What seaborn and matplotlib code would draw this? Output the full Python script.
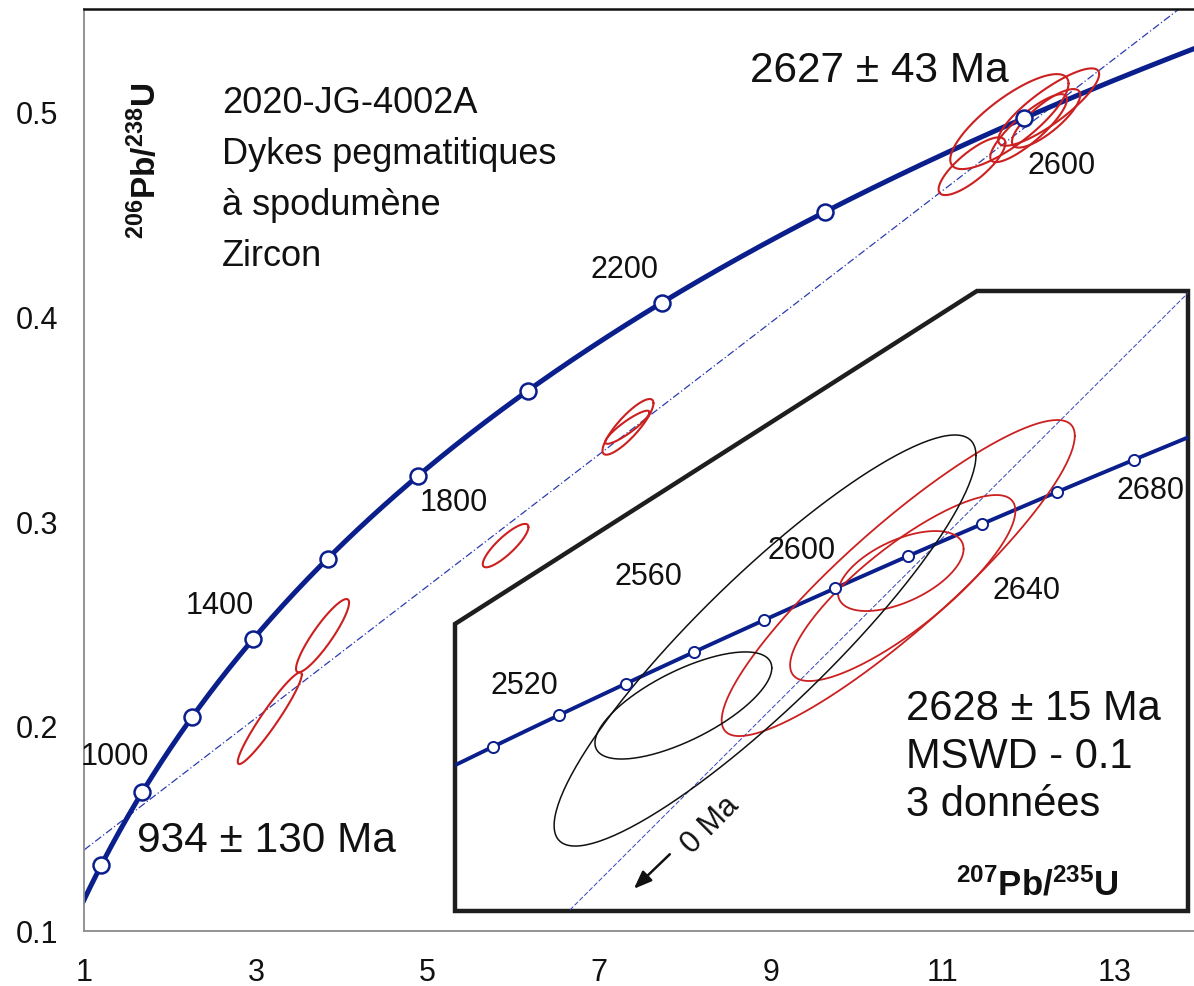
import numpy as np
import matplotlib
matplotlib.use("Agg")
import matplotlib.pyplot as plt
from matplotlib.patches import Polygon
import seaborn as sns

sns.set_theme(style="white")
plt.rcParams["font.family"] = ["Liberation Sans", "DejaVu Sans"]
plt.rcParams["mathtext.fontset"] = "custom"
plt.rcParams["mathtext.rm"] = "Liberation Sans"
plt.rcParams["mathtext.bf"] = "Liberation Sans:bold"

# decay constants (1/Ma)
L238 = 1.55125e-4
L235 = 9.8485e-4

# concordia ages (Ma)
main_marker_ages = [800, 1000, 1200, 1400, 1600, 1800, 2000, 2200, 2400, 2600]
main_label_ages = [1000, 1400, 1800, 2200, 2600]
inset_marker_ages = [2500, 2520, 2540, 2560, 2580, 2600, 2620, 2640, 2660, 2680]
inset_label_ages = [2520, 2560, 2600, 2640, 2680]

# discordia intercepts (Ma)
lower_intercept = 934
upper_intercept = 2627
inset_intercept = 2628

# analyses, main diagram: 207Pb/235U, 206Pb/238U, errors and correlation
main_x = [3.161, 3.776, 5.909, 7.335, 7.327, 11.779, 12.237, 12.207, 11.343, 12.003]
main_sx = [0.373, 0.309, 0.266, 0.297, 0.258, 0.689, 0.588, 0.398, 0.389, 0.447]
main_y = [0.2038, 0.2441, 0.2881, 0.3461, 0.3459, 0.4952, 0.5023, 0.4968, 0.4734, 0.4920]
main_sy = [0.0224, 0.0179, 0.0106, 0.0136, 0.0081, 0.0232, 0.0189, 0.0143, 0.0141, 0.0166]
main_rho = [0.95, 0.90, 0.85, 0.85, 0.90, 0.80, 0.85, 0.80, 0.80, 0.85]

# analyses, inset (upper intercept detail)
inset_x = [12.168, 12.184, 12.177, 11.695, 11.405]
inset_sx = [0.627, 0.400, 0.223, 0.749, 0.314]
inset_y = [0.49828, 0.49683, 0.4993, 0.48919, 0.47974]
inset_sy = [0.02299, 0.01353, 0.00582, 0.0299, 0.00779]
inset_rho = [0.90, 0.83, 0.55, 0.90, 0.70]
inset_used = [True, True, True, False, False]

BLUE = "#0a1f8c"
RED = "#cc2020"
INK = "#111111"


def conc(t):
    t = np.asarray(t, dtype=float)
    return np.exp(L235 * t) - 1.0, np.exp(L238 * t) - 1.0


def ellipse(cx, sx, cy, sy, rho, n=240):
    a = np.linspace(0, 2 * np.pi, n)
    x = cx + sx * np.cos(a)
    y = cy + sy * (rho * np.cos(a) + np.sqrt(1 - rho ** 2) * np.sin(a))
    return x, y


W, H = 1194, 987
fig = plt.figure(figsize=(W / 100, H / 100), dpi=100)

# ---------------- main diagram ----------------
ax = fig.add_axes([84.3 / W, 1 - 931.7 / H, 1 - 84.3 / W, (931.7 - 10) / H])
xmin, xmax = 1.0, 13.93
ymin, ymax = 0.1, 0.5502

# discordia through the two intercepts
x1, y1 = conc(lower_intercept)
x2, y2 = conc(upper_intercept)
slope = (y2 - y1) / (x2 - x1)
dx = np.array([xmin, xmax])
sns.lineplot(x=dx, y=y1 + slope * (dx - x1), ax=ax, color="#2a3cb0",
             lw=0.9, linestyle=(0, (6, 2, 1, 2)), sort=False, estimator=None)

# concordia curve
tt = np.linspace(650, 2800, 600)
cx_, cy_ = conc(tt)
sns.lineplot(x=cx_, y=cy_, ax=ax, color=BLUE, lw=3.6, sort=False, estimator=None)

for i in range(len(main_x)):
    ex, ey = ellipse(main_x[i], main_sx[i], main_y[i], main_sy[i], main_rho[i])
    ax.plot(ex, ey, color=RED, lw=1.5, zorder=3)

mx, my = conc(main_marker_ages)
ax.plot(mx, my, linestyle="none", marker="o", ms=11.5, mfc="white",
        mec=BLUE, mew=1.8, zorder=5)

label_offsets = {1000: (-28, 36), 1400: (-34, 34), 1800: (36, -26),
                 2200: (-37, 34), 2600: (38, -47)}
for age in main_label_ages:
    px, py = conc(age)
    ax.annotate(str(age), (px, py), xytext=label_offsets[age],
                textcoords="offset pixels", ha="center", va="center",
                fontsize=22, color=INK)

ax.set_xlim(xmin, xmax)
ax.set_ylim(ymin, ymax)
ax.set_xticks(range(1, 14))
ax.set_xticklabels([str(v) if v % 2 else "" for v in range(1, 14)])
yt = [0.1, 0.15, 0.2, 0.25, 0.3, 0.35, 0.4, 0.45, 0.5]
ax.set_yticks(yt)
ax.set_yticklabels(["0.1", "", "0.2", "", "0.3", "", "0.4", "", "0.5"])
ax.tick_params(axis="both", direction="in", length=5, width=1,
               color="#8a8a8a", labelsize=22, labelcolor=INK, pad=19)
for s in ["left", "bottom"]:
    ax.spines[s].set_color("#8a8a8a")
    ax.spines[s].set_linewidth(1.3)
ax.spines["top"].set_color(INK)
ax.spines["top"].set_linewidth(1.8)
ax.spines["right"].set_visible(False)
ax.set_xlabel("")
ax.set_ylabel("")

fig.text(145 / W, 1 - 161 / H, r"$\mathbf{^{206}Pb/^{238}U}$", rotation=90,
         ha="center", va="center", fontsize=24, color=INK)

title_lines = ["2020-JG-4002A", "Dykes pegmatitiques", "à spodumène", "Zircon"]
for k, line in enumerate(title_lines):
    fig.text(222 / W, 1 - (113 + 51 * k) / H, line, ha="left", va="baseline",
             fontsize=26, color=INK)

fig.text(750 / W, 1 - 81.7 / H, "2627 ± 43 Ma", ha="left", va="baseline",
         fontsize=30.5, color=INK)
fig.text(136.7 / W, 1 - 851.7 / H, "934 ± 130 Ma", ha="left", va="baseline",
         fontsize=30.5, color=INK)

# ---------------- inset ----------------
L, R, T, B = 455, 1188, 292, 912
axi = fig.add_axes([L / W, 1 - B / H, (R - L) / W, (B - T) / H])
axi.set_xlim(10.594, 13.197)
axi.set_ylim(0.44984, 0.54004)
axi.axis("off")
axi.patch.set_visible(False)

outline = [(0, 0), (0, 0.463), (0.712, 1), (1, 1), (1, 0)]
poly = Polygon(outline, closed=True, transform=axi.transAxes,
               facecolor="white", edgecolor="#1e1e1e", lw=3.2, zorder=0,
               clip_on=False)
axi.add_patch(poly)
clip = Polygon(outline, closed=True, transform=axi.transAxes)

ix = np.array([10.4, 13.4])
ux, uy = conc(inset_intercept)
sns.lineplot(x=ix, y=ix * (uy / ux), ax=axi, color="#3346b8", lw=0.7,
             linestyle=(0, (5, 2)), sort=False, estimator=None)

ti = np.linspace(2400, 2760, 300)
ixc, iyc = conc(ti)
sns.lineplot(x=ixc, y=iyc, ax=axi, color=BLUE, lw=2.8, sort=False, estimator=None)

for i in range(len(inset_x)):
    ex, ey = ellipse(inset_x[i], inset_sx[i], inset_y[i], inset_sy[i], inset_rho[i])
    axi.plot(ex, ey, color=RED if inset_used[i] else INK,
             lw=1.3 if inset_used[i] else 1.1, zorder=3)

imx, imy = conc(inset_marker_ages)
axi.plot(imx, imy, linestyle="none", marker="o", ms=8, mfc="white",
         mec=BLUE, mew=1.4, zorder=5)

inset_offsets = {2520: (-35, 30), 2560: (-46, 76), 2600: (-34, 38),
                 2640: (45, -66), 2680: (17, -30)}
for age in inset_label_ages:
    px, py = conc(age)
    axi.annotate(str(age), (px, py), xytext=inset_offsets[age],
                 textcoords="offset pixels", ha="center", va="center",
                 fontsize=22, color=INK)

for ln in axi.lines:
    ln.set_clip_path(clip)

axi.annotate("", xy=(11.222, 0.45279), xytext=(11.364, 0.45838),
             arrowprops=dict(arrowstyle="-|>,head_length=0.9,head_width=0.35",
                             color=INK, lw=1.8))
axi.text(11.50, 0.4625, "0 Ma", rotation=45, ha="center", va="center",
         fontsize=22, color=INK, rotation_mode="anchor")

stats = ["2628 ± 15 Ma", "MSWD - 0.1", "3 données"]
for k, line in enumerate(stats):
    fig.text(906 / W, 1 - (720 + 48 * k) / H, line, ha="left", va="baseline",
             fontsize=30, color=INK)

fig.text(1037.5 / W, 1 - 885 / H, r"$\mathbf{^{207}Pb/^{235}U}$",
         ha="center", va="center", fontsize=25, color=INK)

fig.savefig("out.png", dpi=100)
